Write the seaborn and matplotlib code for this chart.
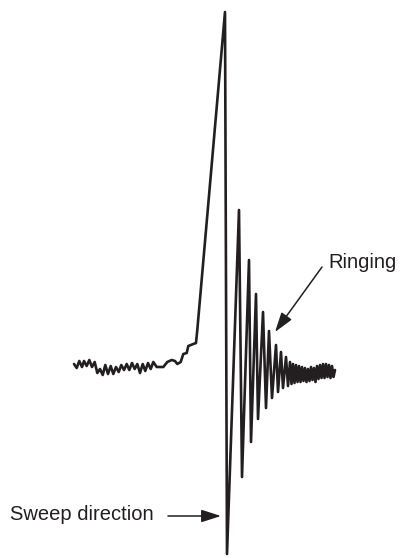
import numpy as np
import pandas as pd
import matplotlib
matplotlib.use('Agg')
import matplotlib.pyplot as plt
import seaborn as sns

# Trace (time in screen units, deflection in screen units, y grows downwards)
noise_t = [74, 76.7, 79.3, 82, 84, 86.7, 89.3, 92, 94.7, 97.3, 100, 102.7, 105.3, 108, 110.7,
           113.3, 116, 118.7, 121.3, 124, 126.7, 129.3, 132, 134.7, 137.3, 140, 142.7, 145.3,
           148, 150.7, 153.3, 156.7, 160, 163.3, 167.3, 171.7, 175, 177.3, 180.7, 183.3,
           186.7, 188.3, 193.3, 196, 197.3]
noise_v = [364, 368, 361, 367, 361, 366, 360, 367, 362, 373, 369, 375, 365, 374, 366,
           374, 367, 372, 365, 370, 364, 370, 363, 369, 364, 373, 364, 371,
           363, 369, 362, 367, 367, 367, 362, 360, 361, 364, 362, 354,
           353, 346, 344, 343, 330]

spike_t = [225, 227, 239, 242, 249, 251, 256, 258, 263, 266, 269, 272, 276, 278, 281, 283, 286, 288]
spike_v = [12, 554, 210, 477, 260, 442, 294, 419, 312, 408, 331, 398, 345, 392, 352, 388, 357, 386]

tail_t = [290, 291.5, 293, 294.5, 296, 297.5, 299, 300.5, 302, 303.5, 305, 306.5, 308, 309.5,
          311, 312.5, 314, 315.5, 317, 318.5, 320, 321.5, 323, 324.5, 326, 327.5, 329, 330.5,
          332, 333.5, 335]
tail_v = [362, 384, 364, 383, 365, 382, 366, 382, 367, 381, 368, 382, 369, 381,
          367, 380, 368, 382, 366, 379, 365, 378, 364, 378, 364, 377, 365, 378,
          366, 377, 370]

trace = pd.DataFrame({'t': noise_t + spike_t + tail_t,
                      'v': noise_v + spike_v + tail_v})

ink = '#231f20'

sns.set_theme(style='white')
plt.rcParams['font.family'] = ['Liberation Sans', 'DejaVu Sans']

fig = plt.figure(figsize=(4, 5.58), dpi=100)
ax = fig.add_axes([0, 0, 1, 1])
sns.lineplot(data=trace, x='t', y='v', sort=False, estimator=None, color=ink,
             linewidth=1.9, ax=ax)
ax.set_xlim(0, 400)
ax.set_ylim(558, 0)
ax.axis('off')

# Labels
ax.text(328, 263, 'Ringing', fontsize=14.5, color=ink, ha='left', va='center')
ax.annotate('', xy=(275, 332), xytext=(322, 267),
            arrowprops=dict(arrowstyle='-|>,head_length=1.0,head_width=0.32',
                            lw=1.1, color=ink, shrinkA=0, shrinkB=0))
ax.text(10, 515, 'Sweep direction', fontsize=14.5, color=ink, ha='left', va='center')
ax.annotate('', xy=(221, 516), xytext=(168, 516),
            arrowprops=dict(arrowstyle='-|>,head_length=1.0,head_width=0.32',
                            lw=1.1, color=ink, shrinkA=0, shrinkB=0))

fig.savefig('out.png', dpi=100, facecolor='white')
